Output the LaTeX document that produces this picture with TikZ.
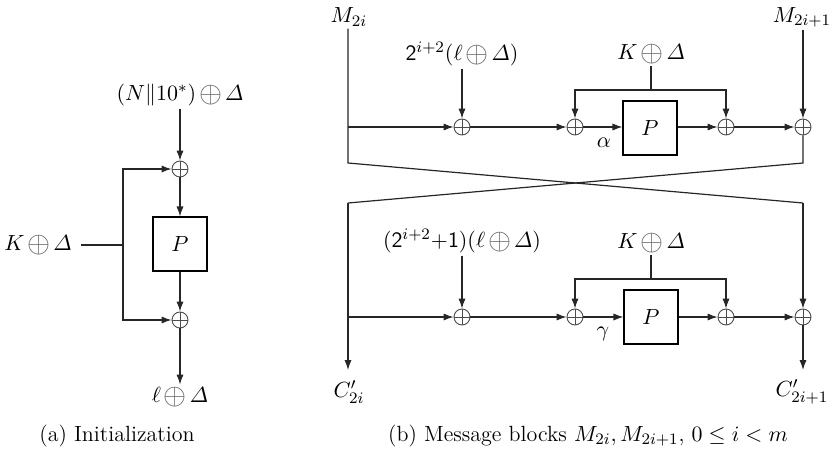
\documentclass[tikz,border=0pt]{standalone}
\usepackage{amsmath}
\usepackage{graphicx}
\usetikzlibrary{arrows.meta,calc}
\newcommand{\xo}{\mathbin{\mkern-1.5mu\vcenter{\hbox{\color{black!60}\scalebox{1.35}{$\oplus$}}}\mkern-1.5mu}}
\begin{document}
\begin{tikzpicture}[x=0.5pt,y=-0.5pt,
  font=\fontsize{11}{13}\selectfont,
  line width=0.6pt,
  conn/.style={draw=black!85},
  arr/.style={conn,-{Latex[length=5pt,width=3.6pt]}},
  xor/.style={circle,draw=black!70,line width=0.45pt,minimum size=8pt,inner sep=0pt,
    path picture={\draw[black!70,line width=0.45pt]
      (path picture bounding box.north) -- (path picture bounding box.south)
      (path picture bounding box.west) -- (path picture bounding box.east);}},
  pbox/.style={draw,line width=0.55pt,minimum size=27pt,inner sep=0pt},
  lbl/.style={inner sep=1pt}]
\useasboundingbox (0,0) rectangle (836,461);

% ---------- (a) Initialization ----------
\node[lbl] (aIn) at (180,95) {$(N\|10^*)\xo\varDelta$};
\node[xor] (a1) at (180,169) {};
\node[pbox] (aP) at (180,244) {$P$};
\node[xor] (a2) at (180,320) {};
\node[lbl,inner xsep=4.5pt] (aK) at (38,245) {$K\xo\varDelta$};
\coordinate (aj) at (123,245);
\node[lbl] (aOut) at (180,397) {$\ell\xo\varDelta$};
\node (capA) at (117,436) {(a) Initialization};

\draw[arr] (aIn) -- (a1);
\draw[arr] (a1) -- (aP);
\draw[arr] (aP) -- (a2);
\draw[arr] (a2) -- (aOut);
\draw[conn] (aK) -- (aj);
\draw[arr] (aj) |- (a1);
\draw[arr] (aj) |- (a2);

% ---------- (b) Message blocks ----------
\node[lbl] (M0) at (349,17) {$M_{2i}$};
\node[lbl] (M1) at (802,17) {$M_{2i+1}$};
\coordinate (c1) at (348,163);
\coordinate (c2) at (803,163);
\coordinate (c3) at (348,203);
\coordinate (c4) at (803,203);
\coordinate (t0) at (348,127);
\coordinate (u0) at (348,317);
\coordinate (e0) at (348,370);
\coordinate (e1) at (803,370);

% top row
\node[lbl] (L1) at (462,54) {$\mathsf{2}^{i+2}(\ell\xo\varDelta)$};
\node[xor] (b1) at (462,127) {};
\node[xor] (b2) at (575,127) {};
\node[pbox] (P1) at (650,128) {$P$};
\node[xor] (b3) at (726,127) {};
\node[xor] (b4) at (803,127) {};
\node[lbl] (K1) at (651,54) {$K\xo\varDelta$};
\coordinate (k1) at (651,90);
\node[lbl] (al) at (604,143) {$\alpha$};

% bottom row
\node[lbl] (L2) at (462,241) {$(\mathsf{2}^{i+2}{+}\mathsf{1})(\ell\xo\varDelta)$};
\node[xor] (d1) at (462,317) {};
\node[xor] (d2) at (575,317) {};
\node[pbox] (P2) at (651,317) {$P$};
\node[xor] (d3) at (726,317) {};
\node[xor] (d4) at (803,317) {};
\node[lbl] (K2) at (651,243) {$K\xo\varDelta$};
\coordinate (k2) at (651,279);
\node[lbl] (ga) at (603,334) {$\gamma$};

\node[lbl] (C0) at (349,392) {$C'_{2i}$};
\node[lbl] (C1) at (802,392) {$C'_{2i+1}$};
\node (capB) at (588,436) {(b) Message blocks $M_{2i}, M_{2i+1}$, $0 \le i < m$};

% wires
\draw[conn] (M0.south -| c1) -- (c1) -- (c4);
\draw[arr] (c4) -- (d4);
\draw[conn] (b4) -- (c2) -- (c3);
\draw[arr] (c3) -- (e0);
\draw[arr] (M1.south -| b4) -- (b4);

\draw[arr] (t0) -- (b1);
\draw[arr] (b1) -- (b2);
\draw[arr] (b2) -- (P1.west |- b2);
\draw[arr] (P1.east |- b3) -- (b3);
\draw[arr] (b3) -- (b4);
\draw[arr] (L1) -- (b1);
\draw[conn] (K1) -- (k1);
\draw[arr] (k1) -| (b2);
\draw[arr] (k1) -| (b3);

\draw[arr] (u0) -- (d1);
\draw[arr] (d1) -- (d2);
\draw[arr] (d2) -- (P2);
\draw[arr] (P2) -- (d3);
\draw[arr] (d3) -- (d4);
\draw[arr] (d4) -- (e1);
\draw[arr] (L2) -- (d1);
\draw[conn] (K2) -- (k2);
\draw[arr] (k2) -| (d2);
\draw[arr] (k2) -| (d3);
\end{tikzpicture}
\end{document}
